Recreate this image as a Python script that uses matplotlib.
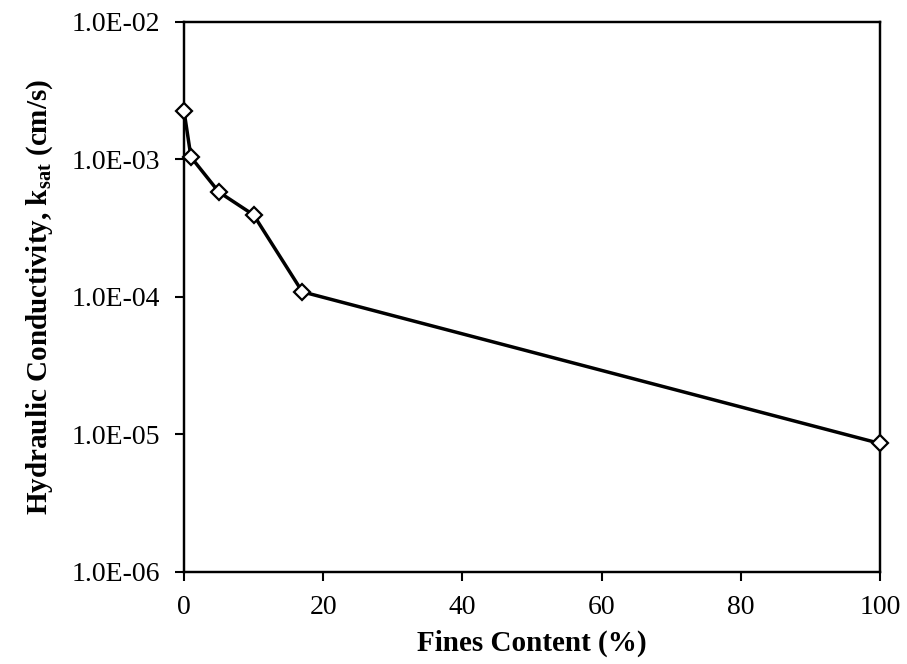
import matplotlib
matplotlib.use("Agg")
import matplotlib.pyplot as plt
from matplotlib.ticker import FuncFormatter, NullLocator, FixedLocator

fines = [0, 1, 5, 10, 17, 100]
ksat = [2.25e-3, 1.04e-3, 5.8e-4, 3.95e-4, 1.09e-4, 8.6e-6]
x_ticks = [0, 20, 40, 60, 80, 100]
y_ticks = [1e-6, 1e-5, 1e-4, 1e-3, 1e-2]

plt.rcParams['font.family'] = ['Liberation Serif', 'DejaVu Serif']
plt.rcParams['mathtext.fontset'] = 'custom'
plt.rcParams['mathtext.rm'] = 'Liberation Serif'
plt.rcParams['mathtext.bf'] = 'Liberation Serif:bold'

fig = plt.figure(figsize=(9.07, 6.64), dpi=100)
ax = fig.add_axes([0.2029, 0.1386, 0.7673, 0.8283])

ax.plot(fines, ksat, color='black', lw=2.5, marker='D', markersize=8,
        markerfacecolor='white', markeredgecolor='black', markeredgewidth=1.6,
        clip_on=False, zorder=5)

ax.set_yscale('log')
ax.set_xlim(0, 100)
ax.set_ylim(1e-6, 1e-2)
ax.xaxis.set_major_locator(FixedLocator(x_ticks))
ax.yaxis.set_major_locator(FixedLocator(y_ticks))
ax.yaxis.set_minor_locator(NullLocator())
ax.yaxis.set_major_formatter(FuncFormatter(lambda v, p: "%.1E" % v))

for s in ax.spines.values():
    s.set_linewidth(1.75)
ax.tick_params(axis='both', direction='out', length=6.5, width=1.5, labelsize=20)
ax.tick_params(axis='y', pad=11)
ax.tick_params(axis='x', pad=10)

ax.set_xlabel('Fines Content (%)', fontsize=21, fontweight='bold', labelpad=7)
ax.set_ylabel(r'Hydraulic Conductivity, k$_{\mathbf{sat}}$ (cm/s)', fontsize=21,
              fontweight='bold', labelpad=12)

fig.savefig('out.png', dpi=100)
